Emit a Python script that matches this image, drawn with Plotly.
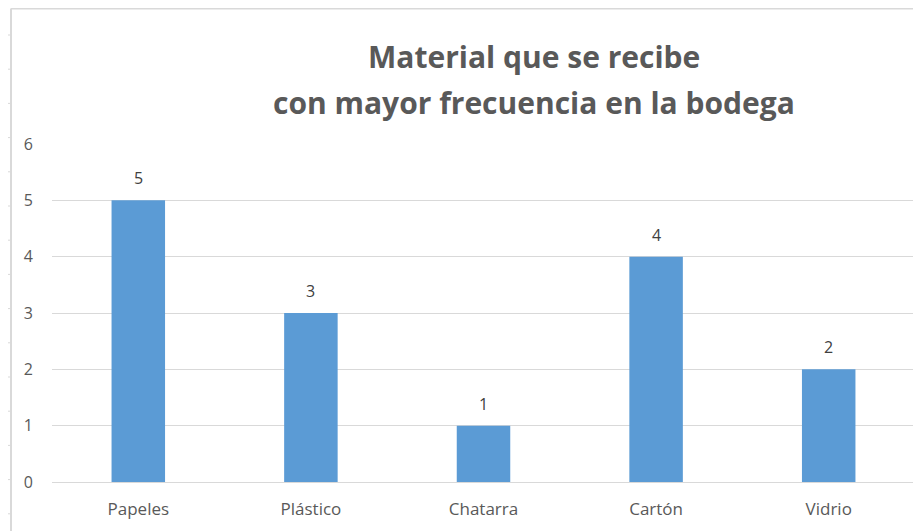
import plotly.graph_objects as go

# ── data ─────────────────────────────────────────────────────────────
materiales = ["Papeles", "Plástico", "Chatarra", "Cartón", "Vidrio"]
frecuencia = [5, 3, 1, 4, 2]
y_ticks = [0, 1, 2, 3, 4, 5, 6]
title_lines = ["Material que se recibe", "con mayor frecuencia en la bodega"]

BAR = "#5b9bd5"
GRID = "#d9d9d9"
TXT = "#595959"
FONT = "Open Sans"

# plot area in figure px (page adds an 8px body margin)
L, R, T, B = 44, 14, 136, 57
PW, PH = 921 - L - R, 531 - T - B


def px_x(fx):
    return (fx - L) / PW


def px_y(fy):
    return (531 - B - fy) / PH


fig = go.Figure(go.Bar(
    x=materiales, y=frecuencia,
    marker=dict(color=BAR, line=dict(width=0)),
    width=0.31,
    hoverinfo="x+y",
))

# value labels above the bars
annotations = [
    dict(x=m, y=v, text=str(v), showarrow=False, yanchor="bottom", yshift=9,
         font=dict(family=FONT, size=16, color="#404040"))
    for m, v in zip(materiales, frecuencia)
]

# two-line title
for line, fy in zip(title_lines, (49, 94)):
    annotations.append(dict(
        text=f"<b>{line}</b>", xref="paper", yref="paper",
        x=px_x(526), y=px_y(fy), xanchor="center", yanchor="middle",
        showarrow=False, font=dict(family=FONT, size=30, color=TXT),
    ))

# frame of the pasted chart (light border + ruler ticks on the left)
shapes = [
    dict(type="line", xref="paper", yref="paper", x0=px_x(3), x1=1.2,
         y0=px_y(0.5), y1=px_y(0.5), line=dict(color=GRID, width=2)),
    dict(type="line", xref="paper", yref="paper", x0=px_x(3), x1=px_x(3),
         y0=-0.3, y1=px_y(0.5), line=dict(color=GRID, width=2)),
]
for k in range(15):
    fy = 27 + 34.2 * k
    if fy > 531:
        break
    shapes.append(dict(type="line", xref="paper", yref="paper",
                       x0=px_x(0), x1=px_x(2), y0=px_y(fy), y1=px_y(fy),
                       line=dict(color=GRID, width=1)))

fig.update_layout(
    width=921, height=531,
    margin=dict(l=L, r=R, t=T, b=B),
    paper_bgcolor="white", plot_bgcolor="white",
    font=dict(family=FONT, size=16, color=TXT),
    showlegend=False,
    annotations=annotations,
    shapes=shapes,
    xaxis=dict(showgrid=False, showline=False, ticks="",
               ticklabelstandoff=15,
               tickfont=dict(size=17, color=TXT, family=FONT)),
    yaxis=dict(range=[0, 6], tickvals=y_ticks, showgrid=True, gridcolor=GRID,
               gridwidth=1, zeroline=True, zerolinecolor=GRID, zerolinewidth=1,
               showline=False, ticks="", ticklabelstandoff=18,
               tickfont=dict(size=16, color=TXT, family=FONT)),
)

fig.write_html("out.html")
